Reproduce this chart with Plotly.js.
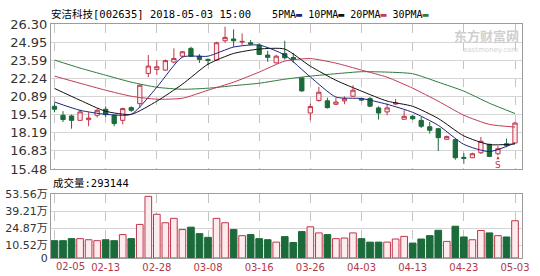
<!DOCTYPE html>
<html><head><meta charset="utf-8">
<script src="https://cdn.plot.ly/plotly-3.0.1.min.js"></script>
<style>html,body{margin:0;padding:0;background:#fff}#chart{width:540px;height:276px}</style>
</head><body><div id="chart"></div>
<script>
const dates = ['02-05','02-06','02-07','02-08','02-09','02-12','02-13','02-14','02-22','02-23',
  '02-26','02-27','02-28','03-01','03-02','03-05','03-06','03-07','03-08','03-09',
  '03-12','03-13','03-14','03-15','03-16','03-19','03-20','03-21','03-22','03-23',
  '03-26','03-27','03-28','03-29','03-30','04-02','04-03','04-04','04-09','04-10',
  '04-11','04-12','04-13','04-16','04-17','04-18','04-19','04-20','04-23','04-24',
  '04-25','04-26','04-27','05-02','05-03'];
const open  = [20.16,19.49,19.44,19.11,19.16,19.49,19.94,19.49,19.11,20.06,
  20.36,22.61,22.91,22.86,23.46,23.90,24.48,23.90,23.66,23.61,
  25.05,25.18,24.95,24.90,24.73,23.98,23.40,24.10,23.80,22.28,
  19.66,20.59,20.57,20.31,20.56,20.91,20.73,20.74,20.04,19.74,
  20.33,19.19,19.41,19.11,18.63,18.49,17.70,17.67,16.35,16.32,
  16.69,17.32,16.62,17.36,17.42];
const high  = [20.39,19.80,19.54,19.90,19.71,19.99,20.16,19.54,20.06,20.16,
  21.79,23.98,23.60,23.65,24.48,24.28,24.60,24.05,23.73,24.98,
  26.10,25.90,25.60,25.10,24.85,24.30,24.00,25.05,24.15,22.30,
  20.36,21.61,20.80,20.80,20.90,21.73,20.80,20.85,20.16,20.36,
  20.71,19.86,19.50,19.36,18.99,18.55,17.97,17.70,16.67,16.70,
  17.87,17.37,17.20,17.75,18.99];
const low   = [19.71,18.99,18.49,19.11,18.67,19.32,19.36,18.67,18.81,19.74,
  20.05,22.33,22.50,22.80,23.36,23.80,23.85,23.40,23.23,23.55,
  24.90,24.60,24.73,24.73,23.98,23.48,23.35,23.65,23.40,21.25,
  19.11,20.50,19.99,20.24,20.31,20.86,20.55,20.10,19.17,19.49,
  20.26,19.19,19.15,18.54,18.12,16.82,17.65,16.17,15.87,16.30,
  16.60,16.37,16.50,17.10,17.37];
const close = [19.94,19.17,19.11,19.74,19.28,19.86,19.54,18.87,19.99,19.86,
  21.73,23.16,23.11,23.57,23.73,24.23,23.90,23.66,23.58,24.90,
  25.30,25.05,25.00,24.80,24.03,23.81,23.90,23.78,23.66,21.31,
  20.14,21.21,20.06,20.48,20.72,21.36,20.62,20.17,19.66,20.04,
  20.41,19.41,19.23,18.67,18.37,17.82,17.90,16.32,16.28,16.62,
  17.55,16.42,16.99,17.23,18.91];
// volume, 万股
const volume = [14.5,14.5,16.2,16.2,15.3,14.5,15.3,14.5,19.6,16.2,
  28.1,51.6,36.6,29.5,33.2,23.8,25.8,20.4,17.3,33.2,
  29.5,23.8,18.7,19.6,16.2,15.3,13.3,17.9,13.0,22.1,
  26.1,21.0,19.6,16.2,16.7,21.0,16.2,13.3,13.3,13.3,
  15.9,18.1,12.5,15.9,18.7,23.2,13.9,26.6,17.6,15.3,
  23.0,21.0,18.7,17.6,31.2];
// moving averages, at every third trading day
const maDates = ['02-05','02-08','02-13','02-23','02-28','03-05','03-08','03-13','03-16','03-21',
  '03-26','03-29','04-03','04-10','04-13','04-18','04-23','04-26','05-03'];
const ma5  = [20.48,19.86,19.56,19.56,21.58,23.83,23.90,24.58,24.73,23.98,22.35,20.85,20.74,20.31,19.71,18.74,17.32,16.78,17.42];
const ma10 = [21.49,20.61,19.79,19.56,20.54,21.81,23.30,24.10,24.43,24.43,23.15,22.10,21.29,20.55,20.16,19.25,17.95,17.30,17.35];
const ma20 = [22.41,21.88,21.36,20.91,20.69,20.76,21.36,21.96,22.71,23.53,23.72,23.38,22.86,22.33,21.51,20.54,19.49,18.81,18.61];
const ma30 = [23.61,23.01,22.48,21.96,21.58,21.43,21.51,21.70,21.88,22.18,22.41,22.59,22.74,22.71,22.59,21.96,21.29,20.39,19.62];
const priceTicks = [15.48,16.83,18.19,19.54,20.89,22.24,23.59,24.95,26.30];
const volTicks = [0,10.52,24.87,39.21,53.56];
const volTickText = ['0','10.52万','24.87万','39.21万','53.56万'];
const xTickDates = ['02-05','02-13','02-28','03-08','03-16','03-26','04-03','04-13','04-23','05-03'];
const title = '安洁科技[002635] 2018-05-03 15:00';
const volLabel = '成交量:293144';
const signalIndex = 52;

const RED = '#c0364a', PINK = '#fdeced', GREEN = '#1b6b3a';
const C5 = '#1c2380', C10 = '#111111', C20 = '#c23b55', C30 = '#2f7a3c';

const up = close.map((c,i)=> c >= open[i]);
const traces = [
  {type:'candlestick', x:dates, open:open, high:high, low:low, close:close,
   xaxis:'x', yaxis:'y', whiskerwidth:0, hoverinfo:'skip',
   increasing:{line:{color:RED,width:1}, fillcolor:PINK},
   decreasing:{line:{color:GREEN,width:1}, fillcolor:GREEN}},
  {type:'scatter', mode:'lines', x:maDates, y:ma30, xaxis:'x', yaxis:'y', line:{color:C30,width:1,shape:'spline',smoothing:0.6}, hoverinfo:'skip'},
  {type:'scatter', mode:'lines', x:maDates, y:ma20, xaxis:'x', yaxis:'y', line:{color:C20,width:1,shape:'spline',smoothing:0.6}, hoverinfo:'skip'},
  {type:'scatter', mode:'lines', x:maDates, y:ma10, xaxis:'x', yaxis:'y', line:{color:C10,width:1,shape:'spline',smoothing:0.6}, hoverinfo:'skip'},
  {type:'scatter', mode:'lines', x:maDates, y:ma5, xaxis:'x', yaxis:'y', line:{color:C5,width:1,shape:'spline',smoothing:0.6}, hoverinfo:'skip'},
  {type:'bar', x:dates, y:volume, xaxis:'x2', yaxis:'y2', hoverinfo:'skip',
   marker:{color:up.map(u=>u?PINK:GREEN), line:{color:up.map(u=>u?RED:GREEN), width:1}}}
];

const gridC = '#d6d6d6', frameC = '#9c9c9c', vgridC = '#c4c4c4';
const xCommon = {type:'category', range:[-0.41,54.82], tickmode:'array', tickvals:xTickDates,
  showgrid:true, gridcolor:vgridC, griddash:'dash', gridwidth:1, showline:true, mirror:true,
  linecolor:frameC, linewidth:1, zeroline:false, ticks:'', fixedrange:true};
const layout = {
  width:540, height:276, margin:{l:51, r:18, t:24, b:18},
  paper_bgcolor:'#fff', plot_bgcolor:'#fff', showlegend:false,
  boxgap:0.28, bargap:0.22,
  xaxis:Object.assign({}, xCommon, {anchor:'y', showticklabels:false, rangeslider:{visible:false}}),
  xaxis2:Object.assign({}, xCommon, {anchor:'y2', showticklabels:true,
    ticktext:xTickDates.map((d,i)=> i===0 ? '' : d),
    tickfont:{family:'DejaVu Sans', size:10, color:'#b0394a'}}),
  yaxis:{domain:[0.3803,1], range:[priceTicks[0], priceTicks[priceTicks.length-1]], tickmode:'array',
    tickvals:priceTicks, ticktext:priceTicks.map(v=>v.toFixed(2)), showgrid:true, gridcolor:gridC,
    showline:true, mirror:true, linecolor:frameC, zeroline:false, ticks:'', fixedrange:true,
    tickfont:{family:'DejaVu Sans', size:13, color:'#333'}},
  yaxis2:{domain:[0,0.2735], range:[volTicks[0], volTicks[volTicks.length-1]], tickmode:'array',
    tickvals:volTicks, ticktext:volTickText, showgrid:true, gridcolor:gridC,
    showline:true, mirror:true, linecolor:frameC, zeroline:false, ticks:'', fixedrange:true,
    tickfont:{family:'DejaVu Sans, Noto Sans CJK SC', size:11, color:'#333'}},
  shapes:[{type:'line', xref:'x domain', x0:0, x1:1, yref:'y', y0:priceTicks[4], y1:priceTicks[4],
    line:{color:'#8a8a8a', width:1}, layer:'below'}],
  annotations:[
    {xref:'paper', yref:'paper', x:0, y:1, xanchor:'left', yanchor:'bottom', xshift:-2, yshift:2,
     text:title, showarrow:false, font:{family:'DejaVu Sans Mono, Noto Sans CJK SC', size:10.5, color:'#000'}},
    {xref:'paper', yref:'paper', x:0.469, y:1, xanchor:'left', yanchor:'bottom', xshift:-2, yshift:2,
     text:'5PMA<span style="color:'+C5+'">▬</span> 10PMA<span style="color:'+C10+'">▬</span> 20PMA<span style="color:'+C20+'">▬</span> 30PMA<span style="color:'+C30+'">▬</span>',
     showarrow:false, font:{family:'DejaVu Sans Mono', size:10, color:'#000'}},
    {xref:'paper', yref:'paper', x:1, y:1, xanchor:'right', yanchor:'top', xshift:-1, yshift:0,
     text:'<b>东方财富网</b>', showarrow:false, font:{family:'Noto Sans CJK SC', size:13, color:'#cfcfcf'}},
    {xref:'paper', yref:'paper', x:1, y:1, xanchor:'right', yanchor:'top', xshift:-2, yshift:-20,
     text:'eastmoney.com', showarrow:false, font:{family:'DejaVu Sans', size:7, color:'#d2d2d2'}},
    {xref:'paper', yref:'paper', x:0, y:0.2735, xanchor:'left', yanchor:'bottom', xshift:0, yshift:3,
     text:volLabel, showarrow:false, font:{family:'DejaVu Sans Mono, Noto Sans CJK SC', size:10.5, color:'#000'}},
    {xref:'x2', yref:'paper', x:dates[0], y:0, xanchor:'left', yanchor:'top', xshift:-1, yshift:-1,
     text:xTickDates[0], showarrow:false, font:{family:'DejaVu Sans', size:10, color:'#b0394a'}},
    {xref:'x', yref:'y', x:dates[signalIndex], y:low[signalIndex], text:'S', showarrow:true,
     ax:0, ay:10, arrowhead:2, arrowsize:0.6, arrowwidth:1, arrowcolor:'#d0303a', standoff:1,
     font:{family:'DejaVu Sans', size:9, color:'#d0303a'}}
  ]
};
Plotly.newPlot('chart', traces, layout, {staticPlot:true, displayModeBar:false});
</script>
</body></html>
